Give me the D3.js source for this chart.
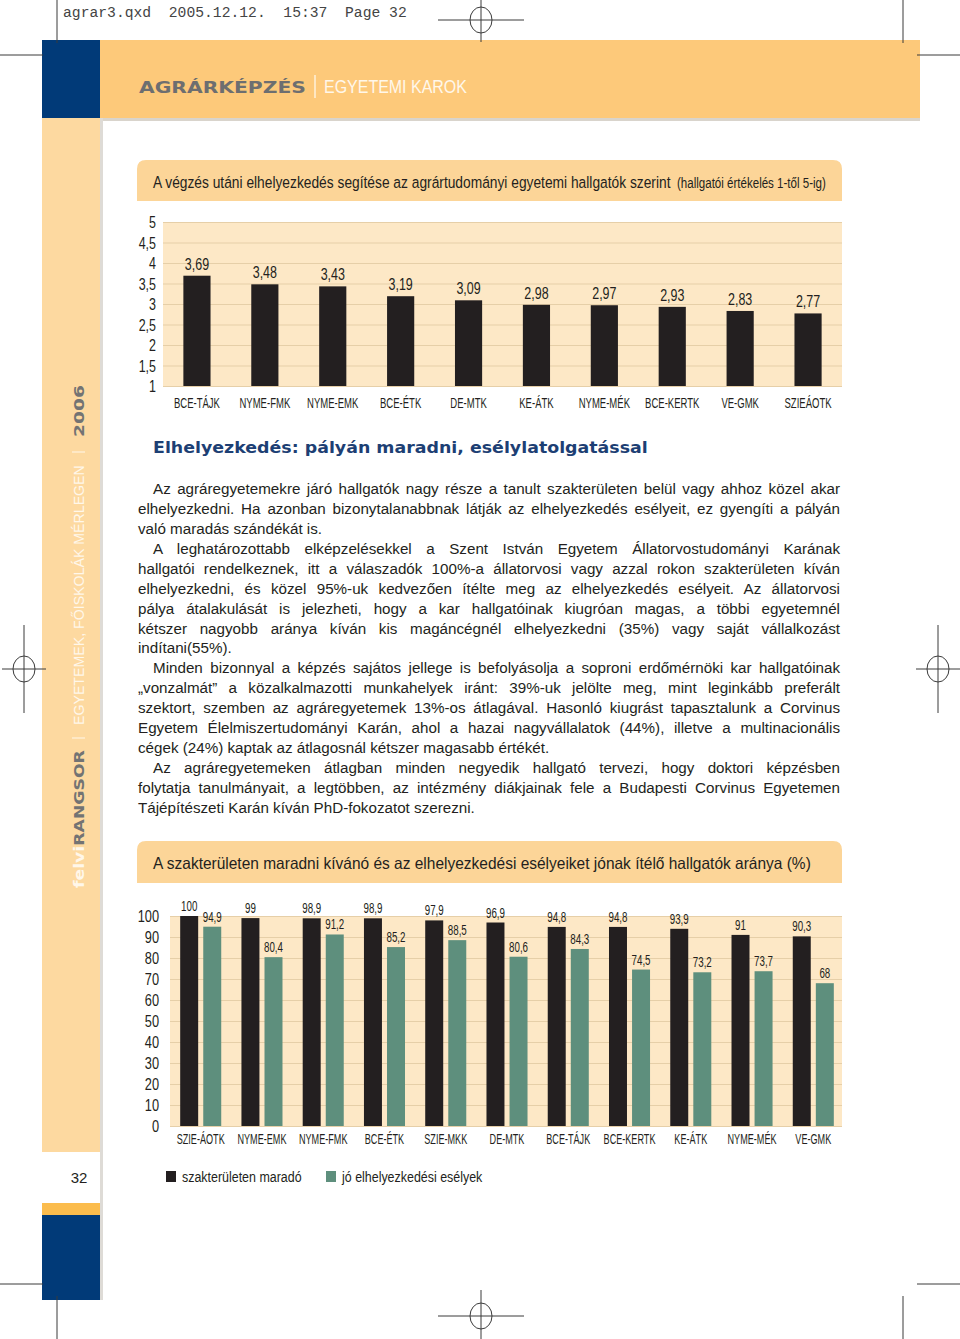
<!DOCTYPE html>
<meta charset="utf-8">
<style>
body { margin: 0; background: #fff; }
svg text { font-family: 'Liberation Sans', Arial, sans-serif; fill: #231f20; }
</style>
<body>
<script src="https://d3js.org/d3.v7.min.js"></script>
<script>
// chart 1: ratings 1-5
var faculties1 = ["BCE-TÁJK", "NYME-FMK", "NYME-EMK", "BCE-ÉTK", "DE-MTK", "KE-ÁTK", "NYME-MÉK", "BCE-KERTK", "VE-GMK", "SZIEÁOTK"];
var ratings = [3.69, 3.48, 3.43, 3.19, 3.09, 2.98, 2.97, 2.93, 2.83, 2.77];
var ratingTicks = [1, 1.5, 2, 2.5, 3, 3.5, 4, 4.5, 5];

// chart 2: percentages
var faculties2 = ["SZIE-ÁOTK", "NYME-EMK", "NYME-FMK", "BCE-ÉTK", "SZIE-MKK", "DE-MTK", "BCE-TÁJK", "BCE-KERTK", "KE-ÁTK", "NYME-MÉK", "VE-GMK"];
var stayInField = [100, 99, 98.9, 98.9, 97.9, 96.9, 94.8, 94.8, 93.9, 91, 90.3];
var goodChances = [94.9, 80.4, 91.2, 85.2, 88.5, 80.6, 84.3, 74.5, 73.2, 73.7, 68];
var percentTicks = [0, 10, 20, 30, 40, 50, 60, 70, 80, 90, 100];
var seriesNames = ["szakterületen maradó", "jó elhelyezkedési esélyek"];

var bodyText = [
  ["Az agráregyetemekre járó hallgatók nagy része a tanult szakterületen belül vagy ahhoz közel akar",
   "elhelyezkedni. Ha azonban bizonytalanabbnak látják az elhelyezkedés esélyeit, ez gyengíti a pályán",
   "való maradás szándékát is."],
  ["A leghatározottabb elképzelésekkel a Szent István Egyetem Állatorvostudományi Karának",
   "hallgatói rendelkeznek, itt a válaszadók 100%-a állatorvosi vagy azzal rokon szakterületen kíván",
   "elhelyezkedni, és közel 95%-uk kedvezően ítélte meg az elhelyezkedés esélyeit. Az állatorvosi",
   "pálya átalakulását is jelezheti, hogy a kar hallgatóinak kiugróan magas, a többi egyetemnél",
   "kétszer nagyobb aránya kíván kis magáncégnél elhelyezkedni (35%) vagy saját vállalkozást",
   "indítani(55%)."],
  ["Minden bizonnyal a képzés sajátos jellege is befolyásolja a soproni erdőmérnöki kar hallgatóinak",
   "„vonzalmát” a közalkalmazotti munkahelyek iránt: 39%-uk jelölte meg, mint leginkább preferált",
   "szektort, szemben az agráregyetemek 13%-os átlagával. Hasonló kiugrást tapasztalunk a Corvinus",
   "Egyetem Élelmiszertudományi Karán, ahol a hazai nagyvállalatok (44%), illetve a multinacionális",
   "cégek (24%) kaptak az átlagosnál kétszer magasabb értékét."],
  ["Az agráregyetemeken átlagban minden negyedik hallgató tervezi, hogy doktori képzésben",
   "folytatja tanulmányait, a legtöbben, az intézmény diákjainak fele a Budapesti Corvinus Egyetemen",
   "Tájépítészeti Karán kíván PhD-fokozatot szerezni."]
];

var BLUE = "#013a78", HEAD = "#fdc97a", SIDE = "#fdd9a0", BOX = "#fcd598",
    CREAM = "#fde8c6", GRID = "#e6cfa8", DARK = "#231f20", GREEN = "#5e8f7d";

var comma = function(v) { return String(v).replace(".", ","); };

// no condensed face installed: squeeze glyphs horizontally around the anchor point
function squeeze(sel, k) {
  sel.each(function() {
    var t = d3.select(this);
    var x = +t.attr("x") || 0, y = +t.attr("y") || 0;
    t.attr("x", 0).attr("y", 0)
     .attr("transform", "translate(" + x + "," + y + ") scale(" + k + ",1)");
  });
}
function fitTo(sel, width) {
  squeeze(sel, width / sel.node().getComputedTextLength());
}

var svg = d3.select("body").append("svg")
    .attr("width", 960)
    .attr("height", 1339);

// ---- page frame ----
svg.append("rect").attr("x", 42).attr("y", 40).attr("width", 878).attr("height", 78).attr("fill", HEAD);
svg.append("rect").attr("x", 42).attr("y", 118).attr("width", 878).attr("height", 3).attr("fill", "#d9d4cc");
svg.append("rect").attr("x", 42).attr("y", 118).attr("width", 58).attr("height", 1034).attr("fill", SIDE);
svg.append("rect").attr("x", 100).attr("y", 118).attr("width", 3).attr("height", 1182).attr("fill", "#dedbd6");
svg.append("rect").attr("x", 42).attr("y", 40).attr("width", 58).attr("height", 78).attr("fill", BLUE);
svg.append("rect").attr("x", 42).attr("y", 1203).attr("width", 58).attr("height", 12).attr("fill", "#fbbc4d");
svg.append("rect").attr("x", 42).attr("y", 1215).attr("width", 58).attr("height", 85).attr("fill", BLUE);

svg.append("text").attr("x", 79).attr("y", 1183).attr("text-anchor", "middle")
    .style("font-size", "15px").text("32");

// header
svg.append("text").attr("x", 139).attr("y", 93)
    .style("font-family", "'DejaVu Sans', sans-serif").style("font-weight", "bold")
    .style("font-size", "16px").style("fill", "#6d6e70")
    .text("AGRÁRKÉPZÉS").call(fitTo, 167);
svg.append("line").attr("x1", 315).attr("x2", 315).attr("y1", 75).attr("y2", 98)
    .attr("stroke", "#fff7ea").attr("stroke-width", 1.3);
svg.append("text").attr("x", 324).attr("y", 93)
    .style("font-size", "18px").style("fill", "#fff7ea")
    .text("EGYETEMI KAROK").call(fitTo, 143);

// sidebar vertical text
var side = svg.append("g").attr("transform", "translate(84,888) rotate(-90)");
var s1 = side.append("text").attr("x", 0).attr("y", 0)
    .style("font-family", "'DejaVu Sans', sans-serif").style("font-weight", "bold").style("font-size", "14px");
s1.append("tspan").style("fill", "#fff7ea").text("felvi");
s1.append("tspan").style("fill", "#737373").text("RANGSOR");
s1.call(fitTo, 138);
side.append("line").attr("x1", 150).attr("x2", 150).attr("y1", -12).attr("y2", 1).attr("stroke", "#fff7ea");
side.append("text").attr("x", 163).attr("y", 0)
    .style("font-size", "14px").style("fill", "#fff7ea")
    .text("EGYETEMEK, FŐISKOLÁK MÉRLEGEN").call(fitTo, 260);
side.append("line").attr("x1", 436).attr("x2", 436).attr("y1", -12).attr("y2", 1).attr("stroke", "#fff7ea");
side.append("text").attr("x", 451).attr("y", 0)
    .style("font-family", "'DejaVu Sans', sans-serif").style("font-weight", "bold").style("font-size", "14px")
    .style("fill", "#737373")
    .text("2006").call(fitTo, 52);

// crop / registration marks
var marks = svg.append("g").attr("stroke", "#3a3a3a").attr("stroke-width", 1).attr("fill", "none");
[[57, 0, 57, 43], [903, 0, 903, 43], [0, 55, 43, 55], [917, 55, 960, 55],
 [57, 1296, 57, 1339], [903, 1296, 903, 1339], [0, 1284, 43, 1284], [917, 1284, 960, 1284]]
  .forEach(function(l) {
    marks.append("line").attr("x1", l[0]).attr("y1", l[1]).attr("x2", l[2]).attr("y2", l[3]);
  });
[[481, 20, 43, 22], [481, 1316, 43, 26], [24, 669, 22, 44], [938, 669, 22, 44]].forEach(function(r) {
  marks.append("line").attr("x1", r[0] - r[2]).attr("x2", r[0] + r[2]).attr("y1", r[1]).attr("y2", r[1]);
  marks.append("line").attr("x1", r[0]).attr("x2", r[0]).attr("y1", r[1] - r[3]).attr("y2", r[1] + r[3]);
  marks.append("ellipse").attr("cx", r[0]).attr("cy", r[1]).attr("rx", 11).attr("ry", 13);
});
svg.append("text").attr("x", 63).attr("y", 17)
    .style("font-family", "'Liberation Mono', 'DejaVu Sans Mono', monospace").style("font-size", "14.7px")
    .style("fill", "#444")
    .style("white-space", "pre").attr("xml:space", "preserve")
    .text("agrar3.qxd  2005.12.12.  15:37  Page 32");

// title boxes
function titleBox(y, h) {
  var x0 = 137, x1 = 842, r = 9;
  svg.append("path")
      .attr("d", "M" + x0 + "," + (y + h) + "V" + (y + r) + "Q" + x0 + "," + y + " " + (x0 + r) + "," + y +
                 "H" + (x1 - r) + "Q" + x1 + "," + y + " " + x1 + "," + (y + r) + "V" + (y + h) + "Z")
      .attr("fill", BOX);
}
titleBox(160, 41);
svg.append("text").attr("x", 153).attr("y", 188).style("font-size", "16.5px")
    .text("A végzés utáni elhelyezkedés segítése az agrártudományi egyetemi hallgatók szerint").call(fitTo, 518);
svg.append("text").attr("x", 677).attr("y", 188).style("font-size", "15px")
    .text("(hallgatói értékelés 1-től 5-ig)").call(fitTo, 149);

titleBox(841, 42);
svg.append("text").attr("x", 153).attr("y", 869).style("font-size", "16.5px")
    .text("A szakterületen maradni kívánó és az elhelyezkedési esélyeiket jónak ítélő hallgatók aránya (%)")
    .call(fitTo, 658);

// ---- chart 1 ----
var x1 = d3.scaleBand().domain(faculties1).range([163, 842]).paddingInner(0.6).paddingOuter(0.3);
var y1 = d3.scaleLinear().domain([1, 5]).range([386, 222]);
var c1 = svg.append("g");
c1.append("rect").attr("x", 163).attr("y", y1(5)).attr("width", 679).attr("height", y1(1) - y1(5)).attr("fill", CREAM);
var ax1 = c1.append("g").attr("transform", "translate(163,0)")
    .call(d3.axisLeft(y1).tickValues(ratingTicks).tickSize(-679).tickPadding(7).tickFormat(comma));
ax1.select(".domain").remove();
ax1.selectAll("line").attr("stroke", GRID);
ax1.selectAll("text").style("font-size", "16px").style("fill", DARK).attr("dy", "0.36em").call(squeeze, 0.78);
c1.selectAll(".bar1").data(ratings).enter().append("rect")
    .attr("x", function(d, i) { return x1(faculties1[i]); })
    .attr("y", function(d) { return y1(d); })
    .attr("width", x1.bandwidth())
    .attr("height", function(d) { return y1(1) - y1(d); })
    .attr("fill", DARK);
c1.selectAll(".lab1").data(ratings).enter().append("text")
    .attr("x", function(d, i) { return x1(faculties1[i]) + x1.bandwidth() / 2; })
    .attr("y", function(d) { return y1(d) - 6; })
    .attr("text-anchor", "middle").style("font-size", "16px")
    .text(comma).call(squeeze, 0.78);
var bx1 = c1.append("g").attr("transform", "translate(0,386)")
    .call(d3.axisBottom(x1).tickSize(0).tickPadding(12));
bx1.select(".domain").remove();
bx1.selectAll("text").style("font-size", "14px").style("fill", DARK).call(squeeze, 0.68);

// ---- body text ----
svg.append("text").attr("x", 153).attr("y", 453)
    .style("font-family", "'DejaVu Sans', sans-serif").style("font-weight", "bold").style("font-size", "15px")
    .style("fill", "#1d3f74")
    .text("Elhelyezkedés: pályán maradni, esélylatolgatással").call(fitTo, 495);

var body = svg.append("g").style("font-size", "15.2px");
var lineY = 494;
bodyText.forEach(function(par) {
  par.forEach(function(line, i) {
    var x = i === 0 ? 153 : 138;
    var t = body.append("text").attr("x", x).attr("y", lineY).text(line);
    if (i < par.length - 1) {
      var w = t.node().getComputedTextLength();
      var gaps = (line.match(/ /g) || []).length;
      if (gaps) t.style("word-spacing", ((840 - x - w) / gaps) + "px");
    }
    lineY += 19.93;
  });
});

// ---- chart 2 ----
var x0 = d3.scaleBand().domain(faculties2).range([171, 843]).paddingInner(0.33).paddingOuter(0.15);
var xs = d3.scaleBand().domain([0, 1]).range([0, x0.bandwidth()]).paddingInner(0.22);
var y2 = d3.scaleLinear().domain([0, 100]).range([1126, 916]);
var c2 = svg.append("g");
c2.append("rect").attr("x", 170).attr("y", y2(100)).attr("width", 672).attr("height", y2(0) - y2(100)).attr("fill", CREAM);
var ax2 = c2.append("g").attr("transform", "translate(170,0)")
    .call(d3.axisLeft(y2).tickValues(percentTicks).tickSize(-672).tickPadding(11));
ax2.select(".domain").remove();
ax2.selectAll("line").attr("stroke", GRID);
ax2.selectAll("text").style("font-size", "16px").style("fill", DARK).attr("dy", "0.36em").call(squeeze, 0.8);

var series = [stayInField, goodChances];
var colors = [DARK, GREEN];
series.forEach(function(vals, s) {
  c2.selectAll(".bar2-" + s).data(vals).enter().append("rect")
      .attr("x", function(d, i) { return x0(faculties2[i]) + xs(s); })
      .attr("y", function(d) { return y2(d); })
      .attr("width", xs.bandwidth())
      .attr("height", function(d) { return y2(0) - y2(d); })
      .attr("fill", colors[s]);
  c2.selectAll(".lab2-" + s).data(vals).enter().append("text")
      .attr("x", function(d, i) { return x0(faculties2[i]) + xs(s) + xs.bandwidth() / 2; })
      .attr("y", function(d) { return y2(d) - 5; })
      .attr("text-anchor", "middle").style("font-size", "15.5px")
      .text(comma).call(squeeze, 0.63);
});
var bx2 = c2.append("g").attr("transform", "translate(0,1126)")
    .call(d3.axisBottom(x0).tickSize(0).tickPadding(8));
bx2.select(".domain").remove();
bx2.selectAll("text").style("font-size", "14px").style("fill", DARK).call(squeeze, 0.65);

// legend
var legend = svg.append("g");
[166, 326].forEach(function(lx, i) {
  legend.append("rect").attr("x", lx).attr("y", 1171).attr("width", 10).attr("height", 11).attr("fill", colors[i]);
  legend.append("text").attr("x", lx + 16).attr("y", 1182)
      .style("font-size", "15px").text(seriesNames[i]).call(squeeze, 0.83);
});
</script>
</body>
